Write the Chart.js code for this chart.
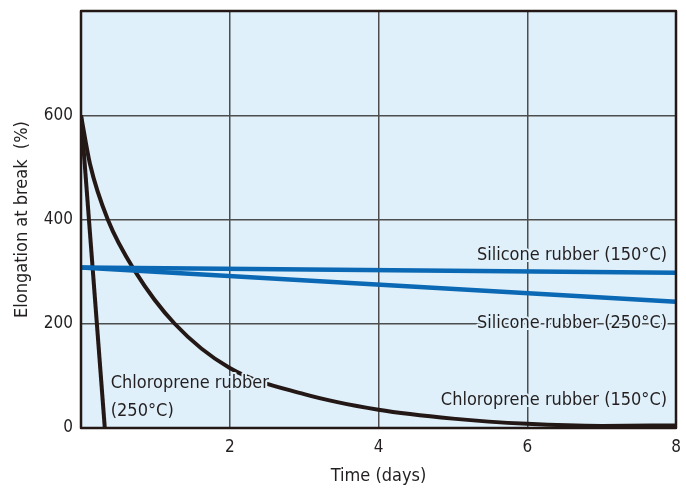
<!DOCTYPE html>
<html>
<head>
<meta charset="utf-8">
<script src="https://cdn.jsdelivr.net/npm/chart.js@4.4.1/dist/chart.umd.min.js"></script>
<style>
  html, body { margin: 0; padding: 0; background: #ffffff; }
  #wrap { width: 686px; height: 491px; }
</style>
</head>
<body>
<div id="wrap"><canvas id="grafico"></canvas></div>
<script>
// dados
const timeSilicone = [0, 8];
const silicone150 = [308, 298];
const silicone250 = [308, 242];
const timeChloro150 = [0, 0.12, 0.36, 0.73, 1.26, 2, 3, 4, 5, 6, 7, 8];
const chloro150 = [600, 507, 400, 300, 200, 115, 65, 35, 18, 8, 4, 5];
const timeChloro250 = [0, 0.32];
const chloro250 = [600, 0];
const xTicks = [2, 4, 6, 8];
const yTicks = [0, 200, 400, 600];

const FONT = "'DejaVu Sans Condensed', 'Liberation Sans Narrow', sans-serif";
const BLUE = "#0a68b4";
const DARK = "#231816";
const PLOT_BG = "#dff0fa";

const pts = (xs, ys) => xs.map((x, i) => ({ x: x, y: ys[i] }));

// rótulos das curvas (posição em unidades do gráfico)
const labels = [
  { text: "Silicone rubber (150°C)", x: 7.88, y: 332, align: "right" },
  { text: "Silicone rubber (250°C)", x: 7.88, y: 200, align: "right" },
  { text: "Chloroprene rubber (150°C)", x: 7.88, y: 54, align: "right" },
  { text: "Chloroprene rubber", x: 0.4, y: 86, align: "left" },
  { text: "(250°C)", x: 0.4, y: 32, align: "left" },
];

const plotDeco = {
  id: "plotDeco",
  beforeDraw(chart) {
    const { ctx, chartArea: a } = chart;
    ctx.save();
    ctx.fillStyle = PLOT_BG;
    ctx.fillRect(a.left, a.top, a.right - a.left, a.bottom - a.top);
    ctx.restore();
  },
  afterDatasetsDraw(chart) {
    const { ctx, chartArea: a, scales } = chart;
    ctx.save();
    ctx.font = "18px " + FONT;
    ctx.textBaseline = "middle";
    labels.forEach(l => {
      const px = scales.x.getPixelForValue(l.x);
      const py = scales.y.getPixelForValue(l.y);
      ctx.textAlign = l.align;
      ctx.lineWidth = 4;
      ctx.strokeStyle = PLOT_BG;
      ctx.lineJoin = "round";
      ctx.strokeText(l.text, px, py);
      ctx.fillStyle = "#231f20";
      ctx.fillText(l.text, px, py);
    });
    ctx.strokeStyle = DARK;
    ctx.lineWidth = 2.5;
    ctx.strokeRect(a.left, a.top, a.right - a.left, a.bottom - a.top);
    ctx.restore();
  },
};

new Chart(document.getElementById("grafico").getContext("2d"), {
  type: "line",
  data: {
    datasets: [
      {
        label: "Silicone rubber (150°C)",
        data: pts(timeSilicone, silicone150),
        borderColor: BLUE,
        borderWidth: 4.5,
        pointRadius: 0,
        tension: 0,
      },
      {
        label: "Silicone rubber (250°C)",
        data: pts(timeSilicone, silicone250),
        borderColor: BLUE,
        borderWidth: 4.5,
        pointRadius: 0,
        tension: 0,
      },
      {
        label: "Chloroprene rubber (150°C)",
        data: pts(timeChloro150, chloro150),
        borderColor: DARK,
        borderWidth: 4,
        pointRadius: 0,
        cubicInterpolationMode: "monotone",
      },
      {
        label: "Chloroprene rubber (250°C)",
        data: pts(timeChloro250, chloro250),
        borderColor: DARK,
        borderWidth: 4,
        pointRadius: 0,
        tension: 0,
      },
    ],
  },
  options: {
    responsive: true,
    maintainAspectRatio: false,
    animation: false,
    layout: { padding: { left: 0, right: 10, top: 11, bottom: 0 } },
    plugins: {
      legend: { display: false },
      tooltip: { enabled: false },
    },
    scales: {
      x: {
        type: "linear",
        min: 0,
        max: 8,
        afterBuildTicks: (s) => { s.ticks = xTicks.map(v => ({ value: v })); },
        afterFit: (s) => { s.height = 63; s.paddingLeft = 0; s.paddingRight = 0; },
        grid: { color: "#4d4d4d", lineWidth: 1.5, drawTicks: false },
        border: { display: false },
        ticks: { color: "#231f20", padding: 9, font: { size: 17, family: FONT } },
        title: { display: true, text: "Time (days)", color: "#231f20", padding: { top: 7 }, font: { size: 18, family: FONT } },
      },
      y: {
        min: 0,
        max: 800,
        afterBuildTicks: (s) => { s.ticks = yTicks.map(v => ({ value: v })); },
        afterFit: (s) => { s.width = 81; s.paddingTop = 0; s.paddingBottom = 0; },
        grid: { color: "#4d4d4d", lineWidth: 1.5, drawTicks: false },
        border: { display: false },
        ticks: { color: "#231f20", padding: 8, font: { size: 17, family: FONT } },
        title: { display: true, text: "Elongation at break  (%)", color: "#231f20", padding: { top: 12, bottom: 8 }, font: { size: 18, family: FONT } },
      },
    },
  },
  plugins: [plotDeco],
});
</script>
</body>
</html>
